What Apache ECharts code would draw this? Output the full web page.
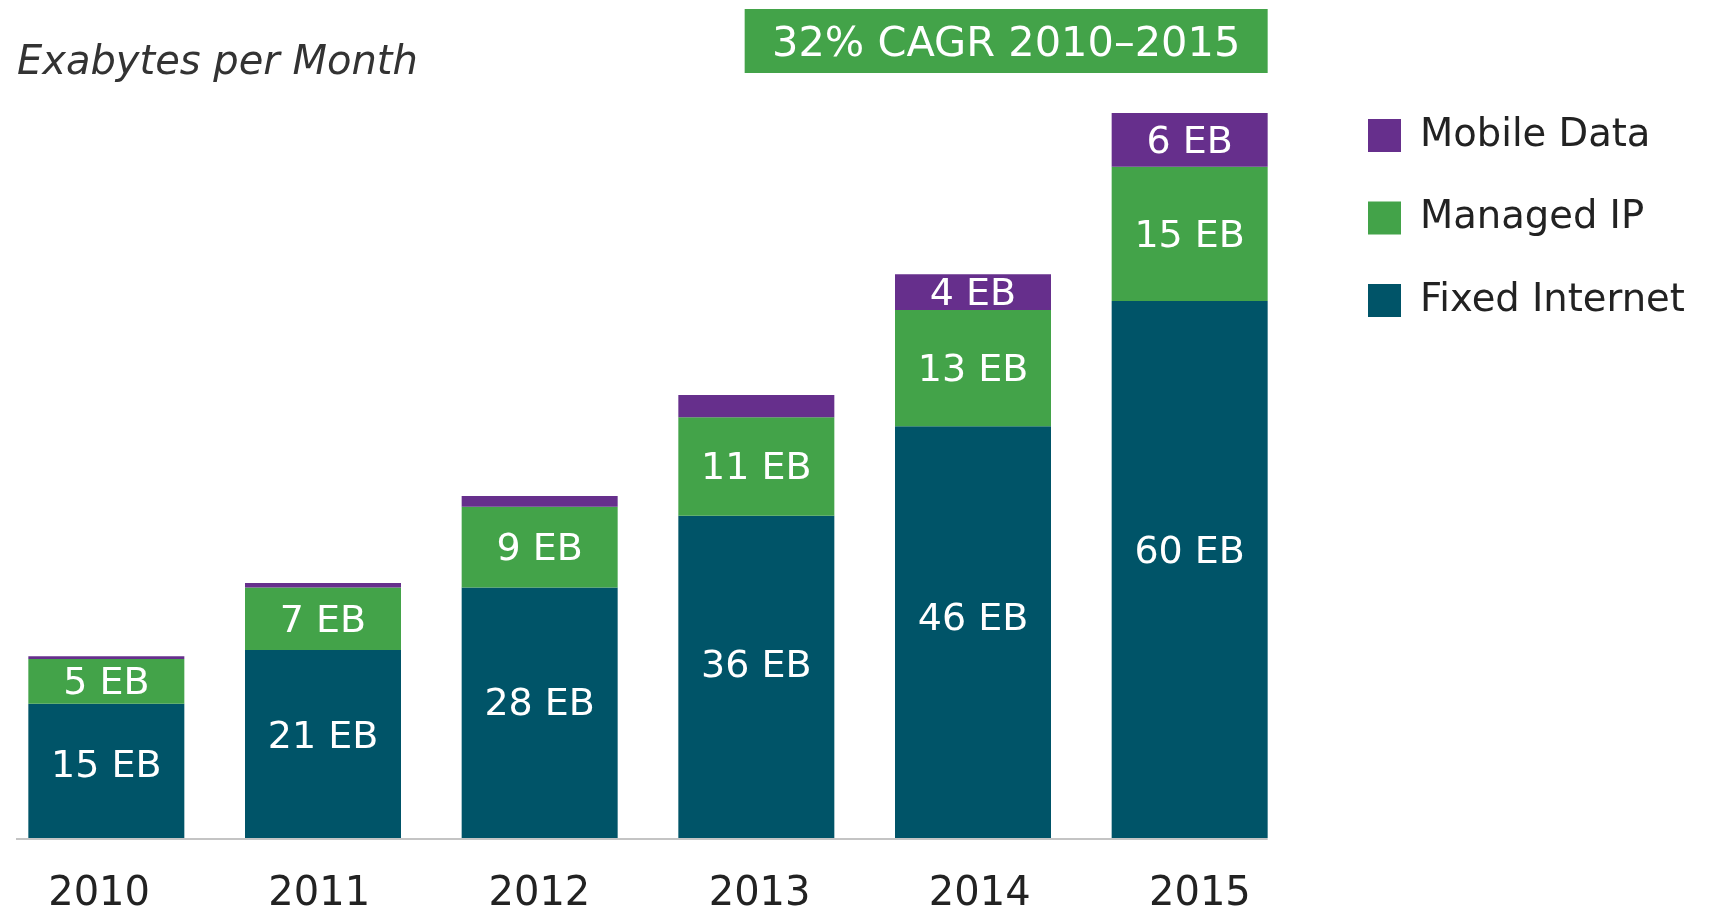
<!DOCTYPE html>
<html>
<head>
<meta charset="utf-8">
<script src="https://cdn.jsdelivr.net/npm/echarts@6/dist/echarts.min.js"></script>
<style>
html,body{margin:0;padding:0;background:#fff;}
#chart{width:1711px;height:912px;}
</style>
</head>
<body>
<div id="chart"></div>
<script>
const years = ['2010', '2011', '2012', '2013', '2014', '2015'];
const fixedInternet = [15, 21, 28, 36, 46, 60];
const managedIP = [5, 7, 9, 11, 13, 15];
const mobileData = [0.3, 0.5, 1.2, 2.5, 4, 6];
const seriesNames = ['Fixed Internet', 'Managed IP', 'Mobile Data'];
const legendOrder = ['Mobile Data', 'Managed IP', 'Fixed Internet'];
const yTitle = 'Exabytes per Month';
const cagrText = '32% CAGR 2010\u20132015';

const FONT = 'DejaVu Sans';
const colors = { 'Fixed Internet': '#005468', 'Managed IP': '#43a349', 'Mobile Data': '#662f8c' };
const BAR_W = 156;

const chart = echarts.init(document.getElementById('chart'));

function labelFor(pos, dy) {
  return {
    show: true,
    position: pos,
    offset: [0, dy],
    align: 'center',
    verticalAlign: 'middle',
    color: '#ffffff',
    fontFamily: FONT,
    fontSize: 38,
    formatter: p => (p.value >= 3 ? p.value + ' EB' : '')
  };
}

const dataMap = { 'Fixed Internet': fixedInternet, 'Managed IP': managedIP, 'Mobile Data': mobileData };

chart.setOption({
  animation: false,
  backgroundColor: '#ffffff',
  title: {
    text: yTitle,
    left: 17,
    top: 44,
    padding: 0,
    textStyle: { fontFamily: FONT, fontSize: 40, fontStyle: 'italic', fontWeight: 'normal', color: '#333333' }
  },
  legend: {
    data: legendOrder,
    orient: 'vertical',
    left: 1368,
    top: 116,
    padding: 0,
    icon: 'rect',
    itemWidth: 33,
    itemHeight: 33,
    itemGap: 43.5,
    selectedMode: false,
    textStyle: { fontFamily: FONT, fontSize: 38.5, color: '#222222', padding: [0, 0, 0, 14] }
  },
  grid: [
    { left: -2, right: 413, top: 28, bottom: 74, containLabel: false, outerBoundsMode: 'none' },
    { left: -11, right: 401, top: 28, bottom: 74, containLabel: false, outerBoundsMode: 'none' }
  ],
  xAxis: [
    {
      type: 'category',
      gridIndex: 0,
      data: years,
      axisLine: { show: false },
      axisTick: { show: false },
      axisLabel: { show: false }
    },
    {
      type: 'category',
      gridIndex: 1,
      data: years,
      axisLine: { show: false },
      axisTick: { show: false },
      axisLabel: { fontFamily: FONT, fontSize: 40, color: '#222222', margin: 37 }
    }
  ],
  yAxis: [
    { type: 'value', gridIndex: 0, min: 0, max: 90.5, show: false, splitLine: { show: false } },
    { type: 'value', gridIndex: 1, min: 0, max: 90.5, show: false, splitLine: { show: false } }
  ],
  series: seriesNames.map(name => ({
    name: name,
    type: 'bar',
    stack: 'total',
    barWidth: BAR_W,
    data: dataMap[name],
    itemStyle: { color: colors[name] },
    label: name === 'Fixed Internet' ? labelFor(['50%', '47%'], 0) : labelFor(['50%', '50%'], 3)
  }))
});

// annotations derived from the axes
const y0 = chart.convertToPixel({ yAxisIndex: 0 }, 0);
const xLast = chart.convertToPixel({ xAxisIndex: 0 }, years[years.length - 1]);
const rightEdge = xLast + BAR_W / 2;
const boxW = 523;
chart.setOption({
  graphic: [
    {
      type: 'line',
      shape: { x1: 16, y1: y0 + 1, x2: rightEdge, y2: y0 + 1 },
      style: { stroke: '#c4c4c4', lineWidth: 2 },
      z: 10
    },
    {
      type: 'group',
      left: rightEdge - boxW,
      top: 9,
      children: [
        { type: 'rect', shape: { x: 0, y: 0, width: boxW, height: 64 }, style: { fill: '#43a349' } },
        {
          type: 'text',
          x: boxW / 2,
          y: 36,
          style: {
            text: cagrText,
            fill: '#ffffff',
            font: '41.5px "' + FONT + '"',
            textAlign: 'center',
            textVerticalAlign: 'middle'
          }
        }
      ]
    }
  ]
});
</script>
</body>
</html>
